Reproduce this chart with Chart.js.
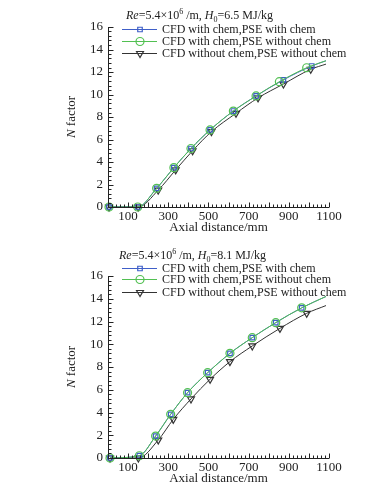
<!DOCTYPE html>
<html>
<head>
<meta charset="utf-8">
<script src="https://cdn.jsdelivr.net/npm/chart.js@4"></script>
<style>
  body { margin: 0; background: #fff; }
  canvas { display: block; }
</style>
</head>
<body>
<canvas id="topChart" width="384" height="245"></canvas>
<canvas id="bottomChart" width="384" height="245"></canvas>
<script>
// legend labels
const seriesLabels = [
  "CFD with chem,PSE with chem",
  "CFD with chem,PSE without chem",
  "CFD without chem,PSE without chem"
];
const xTickValues = [100, 300, 500, 700, 900, 1100];

// top panel, H0 = 6.5 MJ/kg
const topBlueX  = [5, 148, 242, 328, 413, 508, 624, 737, 873, 1014, 1085];
const topBlueY  = [0, 0, 1.66, 3.5, 5.2, 6.85, 8.53, 9.87, 11.3, 12.53, 13.0];
const topGreenX = [5, 148, 242, 328, 413, 508, 624, 737, 853, 989, 1085];
const topGreenY = [0, 0, 1.66, 3.5, 5.2, 6.85, 8.53, 9.87, 11.14, 12.38, 13.0];
const topBlackX = [5, 150, 250, 337, 421, 515, 637, 747, 873, 1009, 1085];
const topBlackY = [0, 0, 1.5, 3.3, 5.0, 6.7, 8.33, 9.7, 10.93, 12.24, 12.7];

// bottom panel, H0 = 8.1 MJ/kg
const botBlueX  = [10, 156, 237, 312, 396, 496, 607, 718, 835, 964, 1085];
const botBlueY  = [0, 0.2, 1.93, 3.84, 5.74, 7.5, 9.2, 10.58, 11.9, 13.2, 14.2];
const botGreenX = [10, 156, 237, 312, 396, 496, 607, 718, 835, 964, 1085];
const botGreenY = [0, 0.2, 1.93, 3.84, 5.74, 7.5, 9.2, 10.58, 11.9, 13.2, 14.2];
const botBlackX = [10, 151, 250, 325, 413, 508, 607, 718, 856, 989, 1085];
const botBlackY = [0, 0, 1.58, 3.4, 5.19, 6.92, 8.47, 9.85, 11.4, 12.72, 13.4];

const FONT = "'Liberation Serif', 'Times New Roman', serif";
const INK = "#222";

const styles = [
  { color: "#3f5fc8", pointStyle: "rect", radius: 3.2, rotation: 0, order: 1 },
  { color: "#52c052", pointStyle: "circle", radius: 4, rotation: 0, order: 0 },
  { color: "#333333", pointStyle: "triangle", radius: 4, rotation: 180, order: 2 }
];

function zip(xs, ys) {
  return xs.map((x, i) => ({ x, y: ys[i] }));
}

function makeDataset(i, xs, ys) {
  const s = styles[i];
  // no marker on the last point (curve end)
  const radii = xs.map((_, k) => (k === xs.length - 1 ? 0 : s.radius));
  return {
    label: seriesLabels[i],
    data: zip(xs, ys),
    borderColor: s.color,
    backgroundColor: "rgba(255,255,255,0)",
    borderWidth: 1,
    pointStyle: s.pointStyle,
    pointRotation: s.rotation,
    pointRadius: radii,
    pointBorderWidth: 1.2,
    pointBorderColor: s.color,
    cubicInterpolationMode: "monotone",
    order: s.order,
    clip: false
  };
}

// draws title, legend, axis lines, inward ticks and axis titles
function decor(cfg) {
  return {
    id: "decor",
    afterDraw(chart) {
      const ctx = chart.ctx;
      const a = chart.chartArea;
      const xs = chart.scales.x, ys = chart.scales.y;
      ctx.save();

      // axes + inward ticks
      ctx.strokeStyle = INK;
      ctx.lineWidth = 1;
      ctx.beginPath();
      const L = Math.round(a.left) + 0.5, B = Math.round(a.bottom) + 0.5;
      ctx.moveTo(L, Math.round(a.top));
      ctx.lineTo(L, B);
      ctx.lineTo(Math.round(a.right), B);
      for (let i = 0; i <= 40; i++) {
        const y = Math.round(ys.getPixelForValue(i * 0.4)) + 0.5;
        const len = i % 5 === 0 ? 5 : 3;
        ctx.moveTo(L, y); ctx.lineTo(L + len, y);
      }
      for (let v = 0; v <= 1100; v += 20) {
        const x = Math.round(xs.getPixelForValue(v)) + 0.5;
        const len = v % 100 === 0 ? 5 : 3;
        ctx.moveTo(x, B); ctx.lineTo(x, B - len);
      }
      ctx.stroke();

      // title
      ctx.fillStyle = INK;
      ctx.textBaseline = "alphabetic";
      ctx.textAlign = "left";
      const parts = [
        ["Re", "italic 12px", 0], ["=5.4×10", "12px", 0], ["6", "8px", -5],
        [" /m, ", "12px", 0], ["H", "italic 12px", 0], ["0", "8px", 3],
        ["=" + cfg.h0 + " MJ/kg", "12px", 0]
      ];
      let tx = cfg.titleX;
      for (const [t, f, dy] of parts) {
        ctx.font = f + " " + FONT;
        ctx.fillText(t, tx, cfg.titleY + dy);
        tx += ctx.measureText(t).width;
      }

      // legend
      ctx.font = "12px " + FONT;
      ctx.textBaseline = "middle";
      chart.data.datasets.forEach((ds, i) => {
        const s = styles[i];
        const y = cfg.legendY[i];
        ctx.strokeStyle = s.color;
        ctx.lineWidth = 1;
        ctx.beginPath();
        ctx.moveTo(122, y + 0.5); ctx.lineTo(157, y + 0.5);
        ctx.stroke();
        ctx.lineWidth = 1.2;
        ctx.fillStyle = "rgba(255,255,255,0)";
        Chart.helpers.drawPoint(ctx, {
          pointStyle: s.pointStyle, radius: s.radius, rotation: s.rotation, borderWidth: 1.2
        }, 140, y + 0.5);
        ctx.fillStyle = INK;
        ctx.fillText(ds.label, 162, y + 0.5);
      });

      // x title
      ctx.font = "13px " + FONT;
      ctx.textAlign = "center";
      ctx.fillText("Axial distance/mm", (a.left + a.right) / 2, cfg.xTitleY);

      // y title (rotated)
      ctx.translate(72, (a.top + a.bottom) / 2);
      ctx.rotate(-Math.PI / 2);
      ctx.font = "italic 13px " + FONT;
      const wN = ctx.measureText("N").width;
      ctx.font = "13px " + FONT;
      const wF = ctx.measureText(" factor").width;
      ctx.textAlign = "left";
      let sx = -(wN + wF) / 2;
      ctx.font = "italic 13px " + FONT;
      ctx.fillText("N", sx, 0);
      ctx.font = "13px " + FONT;
      ctx.fillText(" factor", sx + wN, 0);

      ctx.restore();
    }
  };
}

function buildChart(id, sets, cfg) {
  const ctx = document.getElementById(id).getContext("2d");
  return new Chart(ctx, {
    type: "line",
    data: { datasets: sets },
    options: {
      responsive: false,
      animation: false,
      devicePixelRatio: 1,
      layout: { padding: { top: cfg.top, right: 55, left: 0, bottom: 0 } },
      plugins: { legend: { display: false }, title: { display: false }, tooltip: { enabled: false } },
      scales: {
        x: {
          type: "linear",
          min: 0, max: 1100,
          afterBuildTicks: (s) => { s.ticks = xTickValues.map((v) => ({ value: v })); },
          afterFit: (s) => { s.height = cfg.xAxisH; },
          grid: { display: false, drawTicks: false, tickLength: 0 },
          border: { display: false },
          ticks: {
            color: INK, font: { family: FONT, size: 13 }, padding: 2,
            maxRotation: 0, autoSkip: false, callback: (v) => String(v)
          }
        },
        y: {
          min: 0, max: 16,
          afterFit: (s) => { s.width = 108; },
          grid: { display: false, drawTicks: false, tickLength: 0 },
          border: { display: false },
          ticks: { stepSize: 2, color: INK, font: { family: FONT, size: 13 }, padding: 5 }
        }
      }
    },
    plugins: [decor(cfg)]
  });
}

buildChart("topChart", [
  makeDataset(0, topBlueX, topBlueY),
  makeDataset(1, topGreenX, topGreenY),
  makeDataset(2, topBlackX, topBlackY)
], { top: 27, xAxisH: 38, h0: "6.5", titleX: 126, titleY: 19, legendY: [29, 41, 53], xTitleY: 228 });

buildChart("bottomChart", [
  makeDataset(0, botBlueX, botBlueY),
  makeDataset(1, botGreenX, botGreenY),
  makeDataset(2, botBlackX, botBlackY)
], { top: 31, xAxisH: 32, h0: "8.1", titleX: 119, titleY: 14, legendY: [23, 34, 47], xTitleY: 234 });
</script>
</body>
</html>
